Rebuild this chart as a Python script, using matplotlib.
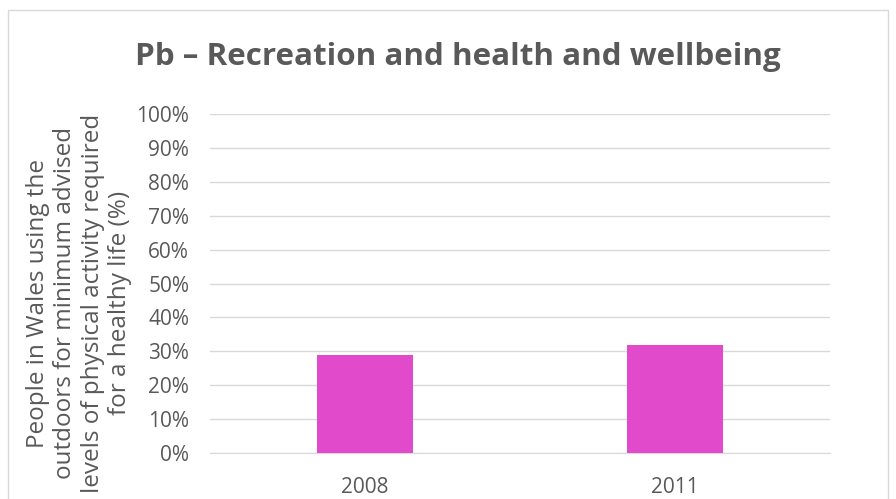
import matplotlib.pyplot as plt
from matplotlib.patches import Rectangle
from matplotlib.ticker import PercentFormatter

years = ["2008", "2011"]
share = [29, 32]

title = "Pb \u2013 Recreation and health and wellbeing"
ylabel = ("People in Wales using the\noutdoors for minimum advised\n"
          "levels of physical activity required\nfor a healthy life (%)")

plt.rcParams['font.family'] = ['Open Sans', 'DejaVu Sans']
grey = "#595959"

fig = plt.figure(figsize=(8.96, 4.99), dpi=100)
ax = fig.add_axes([210 / 896, 1 - 453 / 499, 620 / 896, 339 / 499])

x = range(len(years))
ax.bar(x, share, width=0.31, color="#E04ACB", zorder=3)

ax.set_xlim(-0.5, 1.5)
ax.set_ylim(0, 100)
ax.set_yticks(range(0, 101, 10))
ax.yaxis.set_major_formatter(PercentFormatter(decimals=0))
ax.set_xticks(list(x))
ax.set_xticklabels(years)
ax.grid(axis="y", color="#D9D9D9", linewidth=1, zorder=0)
for s in ["top", "right", "left"]:
    ax.spines[s].set_visible(False)
ax.spines["bottom"].set_color("#D9D9D9")
ax.tick_params(axis="both", length=0, labelsize=15, labelcolor=grey)
ax.tick_params(axis="x", pad=17)
ax.tick_params(axis="y", pad=15)

fig.text(79 / 896, 1 - 303 / 499, ylabel, ha="center", va="center",
         rotation=90, multialignment="center", fontsize=17.5, color=grey,
         linespacing=1.2)

fig.text(458 / 896, 1 - 57 / 499, title, ha="center", va="center",
         fontsize=22.6, fontweight="bold", color=grey)

fig.patches.append(Rectangle((8 / 896, -0.05), 880 / 896, 1 - 10 / 499 + 0.05,
                             transform=fig.transFigure, fill=False,
                             edgecolor="#D9D9D9", linewidth=1))

fig.savefig("out.png", dpi=100)
